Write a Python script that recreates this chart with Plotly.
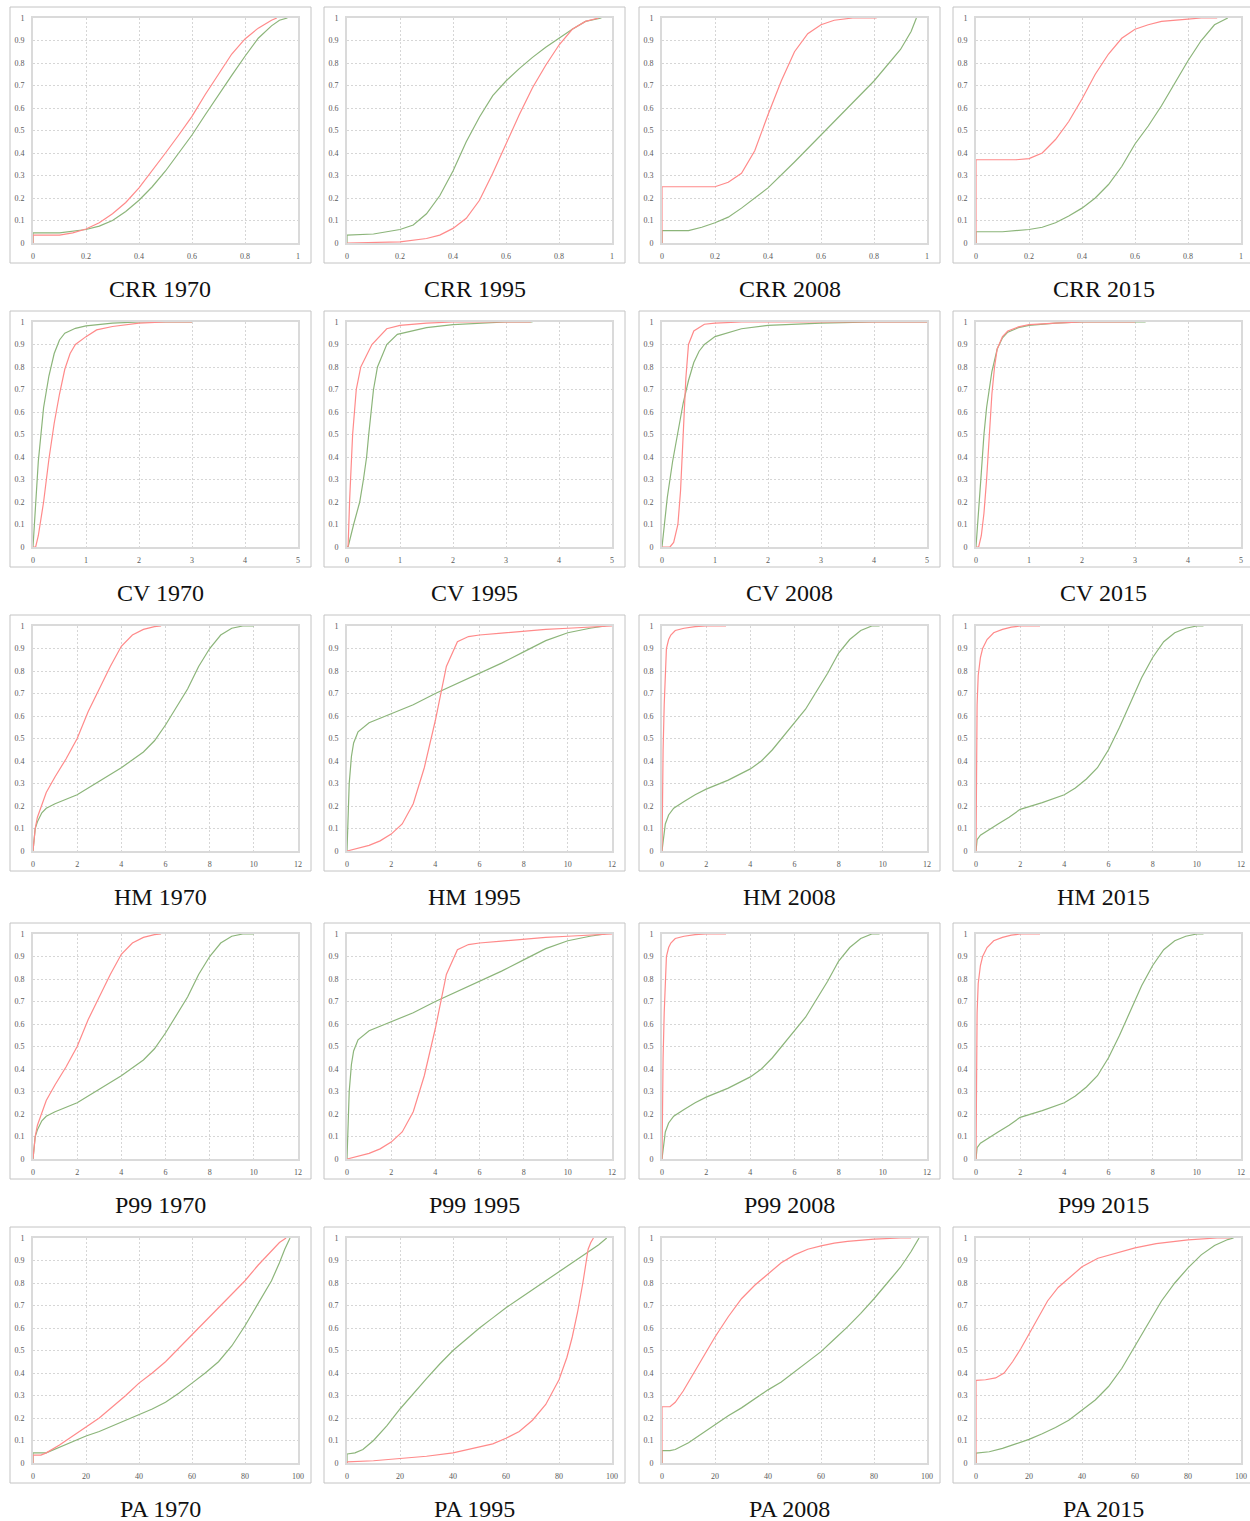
import plotly.graph_objects as go

# Panel grid: metrics by row, years by column
metrics = ["CRR", "CV", "HM", "P99", "PA"]
years = ["1970", "1995", "2008", "2015"]

# x-axis ranges and tick spacing per metric
x_max = {"CRR": 1, "CV": 5, "HM": 12, "P99": 12, "PA": 100}
x_step = {"CRR": 0.2, "CV": 1, "HM": 2, "P99": 2, "PA": 20}
y_ticks = [0, 0.1, 0.2, 0.3, 0.4, 0.5, 0.6, 0.7, 0.8, 0.9, 1]

# Cumulative distribution curves, (value, cumulative share)
crr_1970_red = [(0, 0), (0, 0.035), (0.1, 0.035), (0.15, 0.045), (0.2, 0.062), (0.25, 0.09), (0.3, 0.13),
                (0.35, 0.18), (0.4, 0.245), (0.45, 0.32), (0.5, 0.4), (0.55, 0.48), (0.6, 0.563), (0.65, 0.66),
                (0.7, 0.748), (0.75, 0.84), (0.8, 0.907), (0.85, 0.955), (0.9, 0.99), (0.92, 1.0)]
crr_1970_green = [(0, 0), (0, 0.045), (0.1, 0.045), (0.2, 0.06), (0.25, 0.075), (0.3, 0.1), (0.35, 0.14),
                  (0.4, 0.19), (0.45, 0.25), (0.5, 0.32), (0.55, 0.4), (0.6, 0.48), (0.65, 0.57),
                  (0.7, 0.66), (0.75, 0.745), (0.8, 0.83), (0.85, 0.91), (0.9, 0.965), (0.93, 0.99), (0.96, 1.0)]

crr_1995_red = [(0, 0), (0.1, 0.002), (0.2, 0.005), (0.3, 0.02), (0.35, 0.035), (0.4, 0.065), (0.45, 0.11),
                (0.5, 0.19), (0.55, 0.31), (0.6, 0.44), (0.65, 0.57), (0.7, 0.69), (0.75, 0.79), (0.8, 0.88),
                (0.85, 0.95), (0.9, 0.985), (0.95, 1.0)]
crr_1995_green = [(0, 0), (0, 0.035), (0.1, 0.04), (0.2, 0.06), (0.25, 0.08), (0.3, 0.13), (0.35, 0.21),
                  (0.4, 0.32), (0.45, 0.45), (0.5, 0.56), (0.55, 0.655), (0.6, 0.72), (0.65, 0.775),
                  (0.7, 0.825), (0.75, 0.87), (0.8, 0.91), (0.85, 0.95), (0.9, 0.985), (0.96, 1.0)]

crr_2008_red = [(0, 0), (0, 0.25), (0.2, 0.25), (0.25, 0.27), (0.3, 0.31), (0.35, 0.41), (0.4, 0.57),
                (0.45, 0.72), (0.5, 0.85), (0.55, 0.93), (0.6, 0.97), (0.65, 0.99), (0.72, 1.0), (0.81, 1.0)]
crr_2008_green = [(0, 0), (0, 0.055), (0.1, 0.055), (0.15, 0.07), (0.2, 0.09), (0.25, 0.115), (0.3, 0.155),
                  (0.35, 0.2), (0.4, 0.245), (0.5, 0.36), (0.6, 0.48), (0.7, 0.6), (0.8, 0.72),
                  (0.9, 0.86), (0.94, 0.94), (0.96, 1.0)]

crr_2015_red = [(0, 0), (0, 0.37), (0.15, 0.37), (0.2, 0.375), (0.25, 0.4), (0.3, 0.46), (0.35, 0.54),
                (0.4, 0.64), (0.45, 0.75), (0.5, 0.84), (0.55, 0.91), (0.6, 0.95), (0.65, 0.97),
                (0.7, 0.985), (0.8, 0.995), (0.85, 1.0), (0.91, 1.0)]
crr_2015_green = [(0, 0), (0, 0.05), (0.1, 0.05), (0.2, 0.06), (0.25, 0.07), (0.3, 0.09), (0.35, 0.12),
                  (0.4, 0.155), (0.45, 0.2), (0.5, 0.26), (0.55, 0.34), (0.6, 0.44), (0.65, 0.52),
                  (0.7, 0.61), (0.75, 0.71), (0.8, 0.81), (0.85, 0.9), (0.9, 0.97), (0.95, 1.0)]

cv_1970_red = [(0, 0), (0.05, 0.0), (0.1, 0.05), (0.2, 0.2), (0.3, 0.39), (0.4, 0.55), (0.5, 0.68),
               (0.6, 0.79), (0.7, 0.86), (0.8, 0.9), (1.0, 0.935), (1.2, 0.965), (1.5, 0.98), (2.0, 0.995),
               (2.5, 1.0), (3.0, 1.0)]
cv_1970_green = [(0, 0), (0.05, 0.2), (0.1, 0.38), (0.2, 0.62), (0.3, 0.76), (0.4, 0.86), (0.5, 0.92),
                 (0.6, 0.95), (0.8, 0.972), (1.0, 0.983), (1.5, 0.995), (2.0, 1.0), (3.0, 1.0)]

cv_1995_red = [(0, 0), (0.02, 0.0), (0.05, 0.21), (0.08, 0.4), (0.106, 0.5), (0.175, 0.7), (0.26, 0.8),
               (0.47, 0.9), (0.75, 0.97), (1.0, 0.985), (1.5, 0.995), (2.0, 1.0), (3.47, 1.0)]
cv_1995_green = [(0, 0), (0.02, 0.0), (0.125, 0.1), (0.24, 0.2), (0.31, 0.3), (0.37, 0.4), (0.41, 0.5),
                 (0.45, 0.6), (0.5, 0.7), (0.575, 0.8), (0.75, 0.9), (0.95, 0.945), (1.5, 0.975),
                 (2.0, 0.988), (2.5, 0.995), (3.0, 1.0), (3.5, 1.0)]

cv_2008_red = [(0, 0), (0.15, 0.0), (0.22, 0.02), (0.3, 0.1), (0.35, 0.25), (0.4, 0.5), (0.45, 0.75),
               (0.5, 0.9), (0.6, 0.96), (0.8, 0.99), (1.0, 0.995), (1.5, 1.0), (5.0, 1.0)]
cv_2008_green = [(0, 0), (0.05, 0.12), (0.1, 0.22), (0.2, 0.38), (0.3, 0.52), (0.4, 0.64), (0.5, 0.74),
                 (0.6, 0.82), (0.7, 0.87), (0.8, 0.9), (1.0, 0.935), (1.5, 0.97), (2.0, 0.985),
                 (3.0, 0.995), (4.0, 1.0), (5.0, 1.0)]

cv_2015_red = [(0, 0), (0.05, 0.0), (0.1, 0.05), (0.15, 0.15), (0.2, 0.3), (0.25, 0.5), (0.3, 0.68),
               (0.35, 0.8), (0.4, 0.88), (0.5, 0.935), (0.6, 0.96), (0.8, 0.978), (1.0, 0.988),
               (1.5, 0.995), (2.0, 1.0), (3.0, 1.0)]
cv_2015_green = [(0, 0), (0.05, 0.15), (0.1, 0.33), (0.15, 0.5), (0.2, 0.62), (0.3, 0.78), (0.4, 0.88),
                 (0.5, 0.93), (0.6, 0.955), (0.8, 0.975), (1.0, 0.985), (1.5, 0.995), (2.0, 1.0), (3.2, 1.0)]

hm_1970_red = [(0, 0), (0.05, 0.05), (0.1, 0.1), (0.2, 0.15), (0.4, 0.21), (0.6, 0.26), (1.0, 0.33),
               (1.5, 0.41), (2.0, 0.5), (2.5, 0.62), (3.0, 0.72), (3.5, 0.82), (4.0, 0.91), (4.5, 0.96),
               (5.0, 0.985), (5.5, 0.997), (5.8, 1.0)]
hm_1970_green = [(0, 0), (0.05, 0.05), (0.1, 0.1), (0.2, 0.13), (0.4, 0.17), (0.6, 0.19), (1.0, 0.21),
                 (1.5, 0.23), (2.0, 0.25), (3.0, 0.31), (4.0, 0.37), (5.0, 0.44), (5.5, 0.49), (6.0, 0.56),
                 (6.5, 0.64), (7.0, 0.72), (7.5, 0.82), (8.0, 0.9), (8.5, 0.96), (9.0, 0.99), (9.5, 1.0),
                 (10.0, 1.0)]

hm_1995_red = [(0, 0), (0.5, 0.012), (1.0, 0.025), (1.5, 0.045), (2.0, 0.075), (2.5, 0.12), (3.0, 0.21),
               (3.5, 0.37), (4.0, 0.58), (4.5, 0.82), (5.0, 0.93), (5.5, 0.953), (6.0, 0.96), (7.0, 0.968),
               (8.0, 0.977), (9.0, 0.985), (10.0, 0.99), (11.0, 0.996), (12.0, 1.0)]
hm_1995_green = [(0, 0), (0.05, 0.15), (0.1, 0.3), (0.2, 0.42), (0.3, 0.48), (0.5, 0.53), (1.0, 0.57),
                 (1.5, 0.59), (2.0, 0.61), (3.0, 0.65), (4.0, 0.7), (5.0, 0.745), (6.0, 0.79), (7.0, 0.835),
                 (8.0, 0.885), (9.0, 0.935), (10.0, 0.97), (11.0, 0.99), (11.7, 1.0)]

hm_2008_red = [(0, 0), (0.01, 0.25), (0.05, 0.45), (0.1, 0.65), (0.15, 0.82), (0.2, 0.9), (0.3, 0.94),
               (0.4, 0.96), (0.6, 0.98), (1.0, 0.99), (1.5, 0.997), (2.0, 1.0), (2.9, 1.0)]
hm_2008_green = [(0, 0), (0.05, 0.05), (0.15, 0.12), (0.3, 0.16), (0.53, 0.19), (1.0, 0.22), (1.5, 0.25),
                 (2.0, 0.275), (3.0, 0.315), (4.0, 0.365), (4.5, 0.4), (5.0, 0.45), (5.5, 0.51), (6.0, 0.57),
                 (6.5, 0.63), (7.0, 0.71), (7.5, 0.79), (8.0, 0.88), (8.5, 0.94), (9.0, 0.98), (9.5, 1.0),
                 (9.85, 1.0)]

hm_2015_red = [(0, 0), (0.02, 0.4), (0.05, 0.65), (0.1, 0.78), (0.2, 0.86), (0.3, 0.9), (0.5, 0.94),
               (0.8, 0.97), (1.2, 0.985), (1.6, 0.995), (2.0, 1.0), (2.9, 1.0)]
hm_2015_green = [(0, 0), (0.05, 0.05), (0.2, 0.07), (0.5, 0.09), (1.0, 0.12), (1.5, 0.15), (2.0, 0.185),
                 (3.0, 0.215), (4.0, 0.25), (4.5, 0.28), (5.0, 0.32), (5.5, 0.37), (6.0, 0.45), (6.5, 0.55),
                 (7.0, 0.66), (7.5, 0.77), (8.0, 0.86), (8.5, 0.93), (9.0, 0.97), (9.5, 0.99), (10.0, 1.0),
                 (10.3, 1.0)]

p99_1970_red = [(0, 0), (0.05, 0.05), (0.1, 0.1), (0.2, 0.15), (0.4, 0.21), (0.6, 0.26), (1.0, 0.33),
                (1.5, 0.41), (2.0, 0.5), (2.5, 0.62), (3.0, 0.72), (3.5, 0.82), (4.0, 0.91), (4.5, 0.96),
                (5.0, 0.985), (5.5, 0.997), (5.8, 1.0)]
p99_1970_green = [(0, 0), (0.05, 0.05), (0.1, 0.1), (0.2, 0.13), (0.4, 0.17), (0.6, 0.19), (1.0, 0.21),
                  (1.5, 0.23), (2.0, 0.25), (3.0, 0.31), (4.0, 0.37), (5.0, 0.44), (5.5, 0.49), (6.0, 0.56),
                  (6.5, 0.64), (7.0, 0.72), (7.5, 0.82), (8.0, 0.9), (8.5, 0.96), (9.0, 0.99), (9.5, 1.0),
                  (10.0, 1.0)]

p99_1995_red = [(0, 0), (0.5, 0.012), (1.0, 0.025), (1.5, 0.045), (2.0, 0.075), (2.5, 0.12), (3.0, 0.21),
                (3.5, 0.37), (4.0, 0.58), (4.5, 0.82), (5.0, 0.93), (5.5, 0.953), (6.0, 0.96), (7.0, 0.968),
                (8.0, 0.977), (9.0, 0.985), (10.0, 0.99), (11.0, 0.996), (12.0, 1.0)]
p99_1995_green = [(0, 0), (0.05, 0.15), (0.1, 0.3), (0.2, 0.42), (0.3, 0.48), (0.5, 0.53), (1.0, 0.57),
                  (1.5, 0.59), (2.0, 0.61), (3.0, 0.65), (4.0, 0.7), (5.0, 0.745), (6.0, 0.79), (7.0, 0.835),
                  (8.0, 0.885), (9.0, 0.935), (10.0, 0.97), (11.0, 0.99), (11.7, 1.0)]

p99_2008_red = [(0, 0), (0.01, 0.25), (0.05, 0.45), (0.1, 0.65), (0.15, 0.82), (0.2, 0.9), (0.3, 0.94),
                (0.4, 0.96), (0.6, 0.98), (1.0, 0.99), (1.5, 0.997), (2.0, 1.0), (2.9, 1.0)]
p99_2008_green = [(0, 0), (0.05, 0.05), (0.15, 0.12), (0.3, 0.16), (0.53, 0.19), (1.0, 0.22), (1.5, 0.25),
                  (2.0, 0.275), (3.0, 0.315), (4.0, 0.365), (4.5, 0.4), (5.0, 0.45), (5.5, 0.51), (6.0, 0.57),
                  (6.5, 0.63), (7.0, 0.71), (7.5, 0.79), (8.0, 0.88), (8.5, 0.94), (9.0, 0.98), (9.5, 1.0),
                  (9.85, 1.0)]

p99_2015_red = [(0, 0), (0.02, 0.4), (0.05, 0.65), (0.1, 0.78), (0.2, 0.86), (0.3, 0.9), (0.5, 0.94),
                (0.8, 0.97), (1.2, 0.985), (1.6, 0.995), (2.0, 1.0), (2.9, 1.0)]
p99_2015_green = [(0, 0), (0.05, 0.05), (0.2, 0.07), (0.5, 0.09), (1.0, 0.12), (1.5, 0.15), (2.0, 0.185),
                  (3.0, 0.215), (4.0, 0.25), (4.5, 0.28), (5.0, 0.32), (5.5, 0.37), (6.0, 0.45), (6.5, 0.55),
                  (7.0, 0.66), (7.5, 0.77), (8.0, 0.86), (8.5, 0.93), (9.0, 0.97), (9.5, 0.99), (10.0, 1.0),
                  (10.3, 1.0)]

pa_1970_red = [(0, 0), (0, 0.035), (3, 0.035), (5, 0.045), (10, 0.08), (15, 0.12), (20, 0.157), (25, 0.2),
               (30, 0.25), (35, 0.3), (40, 0.355), (45, 0.4), (50, 0.45), (55, 0.51), (60, 0.57), (65, 0.63),
               (70, 0.69), (75, 0.75), (80, 0.81), (85, 0.88), (90, 0.94), (93, 0.98), (95.5, 1.0)]
pa_1970_green = [(0, 0), (0, 0.045), (5, 0.045), (10, 0.07), (15, 0.095), (20, 0.12), (25, 0.14),
                 (30, 0.165), (35, 0.19), (40, 0.215), (45, 0.24), (50, 0.27), (55, 0.31), (60, 0.355),
                 (65, 0.4), (70, 0.45), (75, 0.52), (80, 0.61), (85, 0.71), (90, 0.81), (93, 0.89),
                 (95, 0.95), (97, 1.0)]

pa_1995_red = [(0, 0), (0, 0.005), (10, 0.01), (20, 0.02), (30, 0.03), (40, 0.045), (50, 0.07), (55, 0.085),
               (60, 0.11), (65, 0.14), (70, 0.19), (75, 0.26), (80, 0.37), (83, 0.47), (85, 0.56),
               (87, 0.67), (89, 0.8), (90, 0.88), (91, 0.95), (92, 0.98), (93, 1.0)]
pa_1995_green = [(0, 0), (0, 0.04), (3, 0.045), (6, 0.06), (10, 0.1), (15, 0.165), (20, 0.24), (25, 0.31),
                 (30, 0.375), (35, 0.44), (40, 0.5), (45, 0.55), (50, 0.6), (55, 0.645), (60, 0.69),
                 (65, 0.73), (70, 0.77), (75, 0.81), (80, 0.85), (85, 0.89), (90, 0.93), (95, 0.97), (98, 1.0)]

pa_2008_red = [(0, 0), (0, 0.25), (3, 0.25), (5, 0.27), (8, 0.32), (10, 0.36), (15, 0.46), (20, 0.56),
               (25, 0.65), (30, 0.73), (35, 0.79), (40, 0.84), (45, 0.89), (50, 0.925), (55, 0.95),
               (60, 0.965), (65, 0.977), (70, 0.985), (80, 0.995), (90, 1.0), (94, 1.0)]
pa_2008_green = [(0, 0), (0, 0.055), (3, 0.055), (5, 0.06), (10, 0.09), (15, 0.13), (20, 0.17), (25, 0.21),
                 (30, 0.245), (35, 0.285), (40, 0.325), (45, 0.36), (50, 0.405), (55, 0.45), (60, 0.495),
                 (65, 0.55), (70, 0.605), (75, 0.665), (80, 0.73), (85, 0.8), (90, 0.87), (94, 0.94), (97, 1.0)]

pa_2015_red = [(0, 0), (0, 0.367), (3.6, 0.37), (7.4, 0.378), (10.6, 0.4), (13.8, 0.45), (17, 0.51),
               (20, 0.575), (23.3, 0.645), (27, 0.72), (31, 0.78), (34.8, 0.82), (40, 0.872), (46, 0.91),
               (54, 0.935), (60, 0.956), (68, 0.975), (80, 0.992), (91, 1.0), (96, 1.0)]
pa_2015_green = [(0, 0), (0, 0.044), (5, 0.05), (10, 0.065), (15, 0.085), (20, 0.105), (25, 0.13),
                 (30, 0.158), (35, 0.19), (40, 0.236), (45, 0.28), (50, 0.34), (55, 0.42), (60, 0.52),
                 (65, 0.62), (70, 0.72), (75, 0.8), (80, 0.867), (85, 0.925), (90, 0.967), (95, 0.993),
                 (97.2, 1.0)]

series = {
    ("CRR", "1970"): (crr_1970_red, crr_1970_green), ("CRR", "1995"): (crr_1995_red, crr_1995_green),
    ("CRR", "2008"): (crr_2008_red, crr_2008_green), ("CRR", "2015"): (crr_2015_red, crr_2015_green),
    ("CV", "1970"): (cv_1970_red, cv_1970_green), ("CV", "1995"): (cv_1995_red, cv_1995_green),
    ("CV", "2008"): (cv_2008_red, cv_2008_green), ("CV", "2015"): (cv_2015_red, cv_2015_green),
    ("HM", "1970"): (hm_1970_red, hm_1970_green), ("HM", "1995"): (hm_1995_red, hm_1995_green),
    ("HM", "2008"): (hm_2008_red, hm_2008_green), ("HM", "2015"): (hm_2015_red, hm_2015_green),
    ("P99", "1970"): (p99_1970_red, p99_1970_green), ("P99", "1995"): (p99_1995_red, p99_1995_green),
    ("P99", "2008"): (p99_2008_red, p99_2008_green), ("P99", "2015"): (p99_2015_red, p99_2015_green),
    ("PA", "1970"): (pa_1970_red, pa_1970_green), ("PA", "1995"): (pa_1995_red, pa_1995_green),
    ("PA", "2008"): (pa_2008_red, pa_2008_green), ("PA", "2015"): (pa_2015_red, pa_2015_green),
}

# Page geometry (pixels)
W, H = 1250, 1521
plot_left = [33, 347, 662, 976]
plot_top = [18, 322, 626, 934, 1238]
plot_w, plot_h = 265, 225

RED = "#ff8a8a"
GREEN = "#8cb57a"
SERIF = "Liberation Serif, Times New Roman, serif"
TICK_FONT = dict(family=SERIF, size=8, color="#595959")


def fmt(v):
    return f"{v:.1f}".rstrip("0").rstrip(".")


fig = go.Figure()
layout = {}
shapes = []
annotations = []

idx = 0
for r, m in enumerate(metrics):
    for c, yr in enumerate(years):
        idx += 1
        xa = f"x{idx}"
        ya = f"y{idx}"
        red, green = series[(m, yr)]
        for pts, col in ((green, GREEN), (red, RED)):
            fig.add_trace(go.Scatter(
                x=[p[0] for p in pts], y=[p[1] for p in pts],
                mode="lines", line=dict(color=col, width=1.2),
                xaxis=xa, yaxis=ya, showlegend=False, hoverinfo="skip"))

        L = plot_left[c]
        T = plot_top[r]
        xmax = x_max[m]
        step = x_step[m]
        n = int(round(xmax / step))
        xt = [round(i * step, 6) for i in range(n + 1)]
        axis_common = dict(
            showline=True, mirror=True, linecolor="#dadada", linewidth=2,
            showgrid=True, gridcolor="#d6d6d6", griddash="2px,2px", gridwidth=1,
            zeroline=False, ticks="", tickfont=TICK_FONT, fixedrange=True,
        )
        layout[f"xaxis{idx}"] = dict(
            domain=[L / W, (L + plot_w) / W], range=[0, xmax], anchor=ya,
            tickvals=xt, ticktext=[fmt(v) if step < 1 else str(int(v)) for v in xt],
            ticklabelstandoff=4, **axis_common)
        layout[f"yaxis{idx}"] = dict(
            domain=[1 - (T + plot_h) / H, 1 - T / H], range=[0, 1], anchor=xa,
            tickvals=y_ticks, ticktext=[fmt(v) for v in y_ticks],
            ticklabelstandoff=5, **axis_common)

        # frame around each panel
        bx0, bx1 = L - 23, L + 278
        by0, by1 = T - 11, T + 245
        shapes.append(dict(type="rect", xref="paper", yref="paper",
                           x0=bx0 / W, x1=bx1 / W, y0=1 - by1 / H, y1=1 - by0 / H,
                           line=dict(color="#c4c4c4", width=1), fillcolor="rgba(0,0,0,0)",
                           layer="below"))
        annotations.append(dict(text=f"{m} {yr}", xref="paper", yref="paper",
                                x=(bx0 + bx1) / 2 / W, y=1 - (T + 271) / H,
                                xanchor="center", yanchor="middle", showarrow=False,
                                font=dict(family=SERIF, size=24, color="#111111")))

fig.update_layout(
    width=W, height=H, margin=dict(l=0, r=0, t=0, b=0, pad=0, autoexpand=False),
    paper_bgcolor="white", plot_bgcolor="white",
    shapes=shapes, annotations=annotations, showlegend=False,
    **layout)

fig.write_html("out.html", config={"displayModeBar": False})
